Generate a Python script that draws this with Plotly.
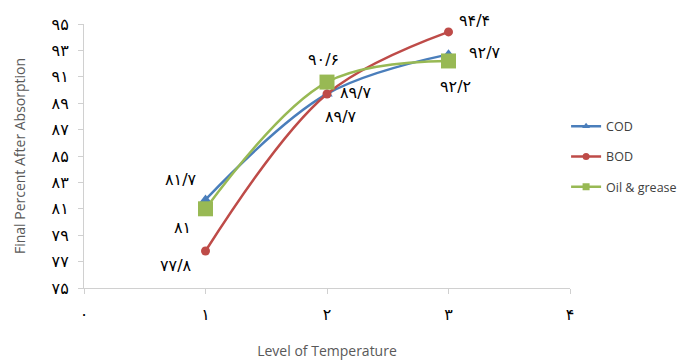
import plotly.graph_objects as go

levels = [1, 2, 3]
cod = [81.7, 89.7, 92.7]
bod = [77.8, 89.7, 94.4]
oil = [81.0, 90.6, 92.2]

x_ticks = [0, 1, 2, 3, 4]
x_tick_text = ["۰", "۱", "۲", "۳", "۴"]
y_ticks = [75, 77, 79, 81, 83, 85, 87, 89, 91, 93, 95]
y_tick_text = ["۷۵", "۷۷", "۷۹", "۸۱", "۸۳", "۸۵", "۸۷", "۸۹", "۹۱", "۹۳", "۹۵"]

cod_labels = ["۸۱/۷", "۸۹/۷", "۹۲/۷"]
bod_labels = ["۷۷/۸", "۸۹/۷", "۹۴/۴"]
oil_labels = ["۸۱", "۹۰/۶", "۹۲/۲"]

# label offsets in pixels (xshift, yshift)
cod_off = [(-25, 20), (14, -23), (36, 2)]
bod_off = [(-30, -14), (29, 1), (26, 11)]
oil_off = [(-23, -19), (-4, 23), (7, -26)]

blue = "#4a7ebb"
red = "#be4b48"
green = "#98b954"

series = [
    ("COD", cod, blue, "triangle-up", 10, "a"),
    ("BOD", bod, red, "circle", 9, "b"),
    ("Oil & grease", oil, green, "square", 15, "c"),
]

fig = go.Figure()
for name, ys, col, sym, sz, grp in series:
    fig.add_trace(go.Scatter(x=levels, y=ys, name=name, mode="lines+markers", showlegend=False,
                             line=dict(color=col, width=2.5, shape="spline", smoothing=1.0),
                             marker=dict(symbol=sym, size=sz, color=col)))
for name, ys, col, sym, sz, grp in series:
    fig.add_trace(go.Scatter(x=[None], y=[None], name=name, mode="lines+markers", legendgroup=grp,
                             line=dict(color=col, width=2.5),
                             marker=dict(symbol=sym, size=7, color=col)))

for ys, labs, offs in [(cod, cod_labels, cod_off), (bod, bod_labels, bod_off), (oil, oil_labels, oil_off)]:
    for xv, yv, t, (dx, dy) in zip(levels, ys, labs, offs):
        fig.add_annotation(x=xv, y=yv, text=t, showarrow=False, xshift=dx, yshift=dy,
                           font=dict(family="DejaVu Sans", size=16, color="#000000"))

fig.update_layout(
    width=687, height=360,
    margin=dict(l=84, r=117, t=24, b=72, autoexpand=False),
    paper_bgcolor="white", plot_bgcolor="white",
    font=dict(family="Open Sans", color="#595959"),
    legend=dict(xref="container", yref="container", x=0.824, y=0.565, xanchor="left", yanchor="middle",
                font=dict(size=12.5, color="#404040", family="Open Sans"),
                tracegroupgap=11, itemwidth=30, bgcolor="rgba(0,0,0,0)"),
    showlegend=True,
)
fig.update_xaxes(range=[0, 4], tickvals=x_ticks, ticktext=x_tick_text,
                 showgrid=False, zeroline=False, showline=True, linecolor="#d0d0d0", linewidth=1,
                 ticks="outside", ticklen=5, tickcolor="#d0d0d0",
                 tickfont=dict(family="DejaVu Sans", size=16, color="#000000"),
                 ticklabelstandoff=7,
                 title=dict(text="Level of Temperature", font=dict(size=14, color="#595959"), standoff=28))
fig.update_yaxes(range=[75, 95], tickvals=y_ticks, ticktext=y_tick_text,
                 showgrid=False, zeroline=False, showline=True, linecolor="#d0d0d0", linewidth=1,
                 ticks="outside", ticklen=5, tickcolor="#d0d0d0",
                 tickfont=dict(family="DejaVu Sans", size=16, color="#000000"),
                 ticklabelstandoff=6,
                 title=dict(text="Final Percent After Absorption", font=dict(size=14, color="#595959"), standoff=22))

fig.write_html("out.html")
